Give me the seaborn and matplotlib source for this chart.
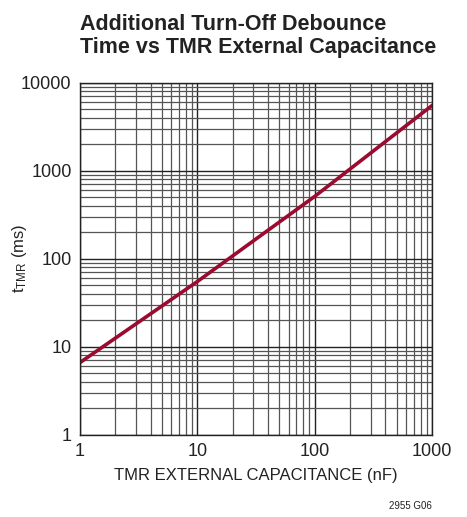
import matplotlib
matplotlib.use("Agg")
import matplotlib.pyplot as plt
import seaborn as sns
import pandas as pd
from matplotlib.ticker import LogLocator, FixedLocator, NullFormatter

capacitance_nF = [1, 10, 100, 1000]
t_tmr_ms = [6.6, 55, 510, 5500]
x_ticks = [1, 10, 100, 1000]
x_tick_labels = ["1", "10", "100", "1000"]
y_ticks = [1, 10, 100, 1000, 10000]
y_tick_labels = ["1", "10", "100", "1000", "10000"]

sns.set_theme(style="white")
plt.rcParams['font.family'] = ['Liberation Sans', 'DejaVu Sans']
plt.rcParams['mathtext.fontset'] = 'custom'
plt.rcParams['mathtext.rm'] = 'Liberation Sans'

df = pd.DataFrame({"C": capacitance_nF, "t": t_tmr_ms})

fig = plt.figure(figsize=(4.67, 5.17), dpi=100)
ax = fig.add_axes([0.171, 0.159, 0.754, 0.681])
ax.set_xscale("log")
ax.set_yscale("log")
ax.set_xlim(1, 1000)
ax.set_ylim(1, 10000)

ax.xaxis.set_major_locator(FixedLocator(x_ticks))
ax.yaxis.set_major_locator(FixedLocator(y_ticks))
ax.xaxis.set_minor_locator(LogLocator(base=10, subs=range(2, 10)))
ax.yaxis.set_minor_locator(LogLocator(base=10, subs=range(2, 10)))
ax.xaxis.set_minor_formatter(NullFormatter())
ax.yaxis.set_minor_formatter(NullFormatter())
ax.set_xticklabels(x_tick_labels)
ax.set_yticklabels(y_tick_labels)

ax.grid(which="major", color="#222222", lw=1.0)
ax.grid(which="minor", color="#555555", lw=0.9)
ax.set_axisbelow(True)

sns.lineplot(data=df, x="C", y="t", ax=ax, color="#9b0b30", lw=2.6)

for s in ax.spines.values():
    s.set_color("#222222")
    s.set_linewidth(1.0)
ax.tick_params(which="both", length=0, labelsize=13, colors="#222222", pad=6)

ax.set_xlabel("TMR EXTERNAL CAPACITANCE (nF)", fontsize=12, color="#222222", labelpad=6)
ax.set_ylabel(r"$\mathregular{t_{TMR}}$ (ms)", fontsize=12, color="#222222")
ax.yaxis.set_label_coords(-0.145, 0.5)

fig.text(0.171, 0.888, "Additional Turn-Off Debounce\nTime vs TMR External Capacitance",
         fontsize=15.5, fontweight="bold",
         color="#222222", ha="left", va="bottom", linespacing=1.1)
fig.text(0.925, 0.012, "2955 G06", fontsize=7, color="#222222", ha="right", va="bottom")

fig.savefig("out.png", dpi=100)
